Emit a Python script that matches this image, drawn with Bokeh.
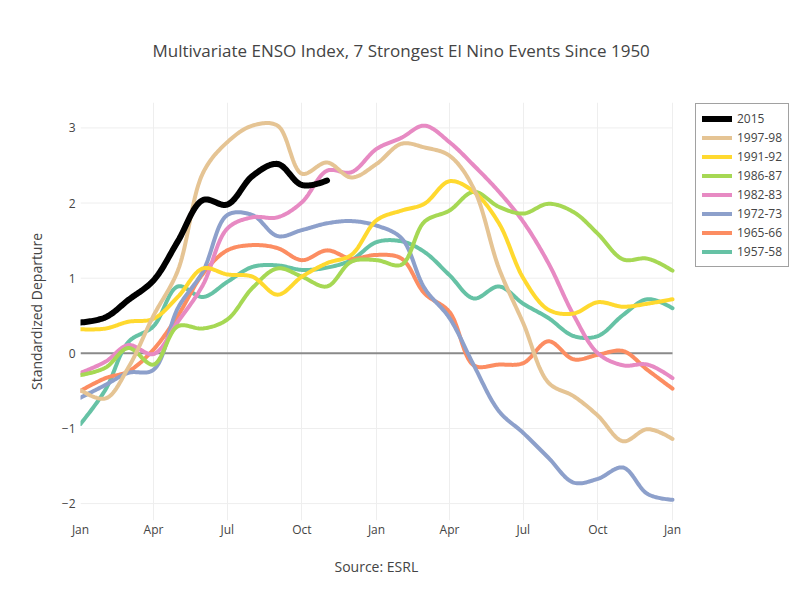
import numpy as np
import pandas as pd
from bokeh.plotting import figure
from bokeh.models import (Range1d, Legend, LegendItem, MonthsTicker,
                          DatetimeTickFormatter, FixedTicker, Title)
from bokeh.embed import file_html
from bokeh.resources import INLINE

# ---------------- data ----------------
months = pd.date_range("2001-01-01", "2003-01-01", freq="MS")  # Jan .. Jan (25 months)

mei_2015 = [0.41, 0.48, 0.71, 0.97, 1.49, 2.04, 1.98, 2.36, 2.52, 2.24, 2.30]
mei_1997_98 = [-0.49, -0.60, -0.19, 0.50, 1.10, 2.40, 2.81, 3.03, 3.03, 2.39, 2.54, 2.34,
               2.52, 2.79, 2.74, 2.63, 2.19, 1.13, 0.40, -0.39, -0.57, -0.83, -1.17, -1.01, -1.14]
mei_1991_92 = [0.32, 0.33, 0.42, 0.46, 0.75, 1.13, 1.05, 1.02, 0.78, 1.02, 1.20, 1.31,
               1.77, 1.90, 1.99, 2.29, 2.15, 1.73, 1.00, 0.58, 0.53, 0.68, 0.62, 0.66, 0.72]
mei_1986_87 = [-0.29, -0.19, 0.07, -0.15, 0.36, 0.33, 0.45, 0.87, 1.13, 1.02, 0.89, 1.22,
               1.24, 1.18, 1.75, 1.90, 2.15, 1.95, 1.86, 1.99, 1.88, 1.59, 1.25, 1.26, 1.10]
mei_1982_83 = [-0.26, -0.11, 0.11, -0.01, 0.42, 0.91, 1.66, 1.81, 1.81, 2.01, 2.43, 2.41,
               2.72, 2.87, 3.03, 2.81, 2.50, 2.15, 1.75, 1.20, 0.51, 0.00, -0.16, -0.15, -0.33]
mei_1972_73 = [-0.59, -0.42, -0.26, -0.22, 0.60, 1.09, 1.84, 1.84, 1.56, 1.64, 1.73, 1.76,
               1.70, 1.53, 0.87, 0.47, -0.16, -0.77, -1.06, -1.39, -1.72, -1.67, -1.52, -1.87, -1.95]
mei_1965_66 = [-0.50, -0.33, -0.24, 0.05, 0.50, 1.06, 1.37, 1.44, 1.40, 1.24, 1.37, 1.26,
               1.31, 1.26, 0.80, 0.55, -0.16, -0.15, -0.13, 0.16, -0.08, -0.02, 0.03, -0.22, -0.47]
mei_1957_58 = [-0.94, -0.48, 0.15, 0.36, 0.89, 0.75, 0.95, 1.15, 1.17, 1.11, 1.14, 1.24,
               1.48, 1.49, 1.35, 1.04, 0.73, 0.89, 0.66, 0.47, 0.23, 0.23, 0.51, 0.72, 0.60]

series_names = ["2015", "1997-98", "1991-92", "1986-87", "1982-83", "1972-73", "1965-66", "1957-58"]
series_values = [mei_2015, mei_1997_98, mei_1991_92, mei_1986_87, mei_1982_83,
                 mei_1972_73, mei_1965_66, mei_1957_58]
series_colors = ["#000000", "#e5c494", "#ffd92f", "#a6d854", "#e78ac3", "#8da0cb", "#fc8d62", "#66c2a5"]
series_widths = [6, 4, 4, 4, 4, 4, 4, 4]

y_ticks = [-2, -1, 0, 1, 2, 3]
y_tick_labels = {-2: "\u22122", -1: "\u22121", 0: "0", 1: "1", 2: "2", 3: "3"}

# ---------------- layout ----------------
W, H = 800, 600
ML, MT, MB = 80, 100, 80
FW = 592                 # width of the data area (px)
FW_ALL = W - ML          # frame runs to the right edge so the legend can sit in it
FH = H - MT - MB
YMIN, YMAX = -2.225, 3.338
x0 = months[0].value / 1e6
x1 = months[-1].value / 1e6
x1_frame = x0 + (x1 - x0) * FW_ALL / FW


def plotly_spline(xs, ys, smoothness=1.0, n=20):
    """Plotly-style 'spline' line shape, computed in screen space."""
    sx = [(x - x0) / (x1 - x0) * FW for x in xs]
    sy = [(y - YMIN) / (YMAX - YMIN) * FH for y in ys]
    pts = list(zip(sx, sy))
    if len(pts) < 3:
        out = pts
    else:
        def tangent(p0, p1, p2):
            d1x, d1y = p0[0] - p1[0], p0[1] - p1[1]
            d2x, d2y = p2[0] - p1[0], p2[1] - p1[1]
            d1a = (d1x * d1x + d1y * d1y) ** 0.25
            d2a = (d2x * d2x + d2y * d2y) ** 0.25
            numx = (d2a * d2a * d1x - d1a * d1a * d2x) * smoothness
            numy = (d2a * d2a * d1y - d1a * d1a * d2y) * smoothness
            den1 = 3 * d2a * (d1a + d2a)
            den2 = 3 * d1a * (d1a + d2a)
            return ((p1[0] + numx / den1, p1[1] + numy / den1),
                    (p1[0] - numx / den2, p1[1] - numy / den2))
        tans = [tangent(pts[i - 1], pts[i], pts[i + 1]) for i in range(1, len(pts) - 1)]
        t = np.linspace(0, 1, n + 1)[1:]
        out = [pts[0]]

        def quad(a, c, b):
            for u in t:
                out.append(((1 - u) ** 2 * a[0] + 2 * (1 - u) * u * c[0] + u * u * b[0],
                            (1 - u) ** 2 * a[1] + 2 * (1 - u) * u * c[1] + u * u * b[1]))

        def cub(a, c1, c2, b):
            for u in t:
                m = 1 - u
                out.append((m ** 3 * a[0] + 3 * m * m * u * c1[0] + 3 * m * u * u * c2[0] + u ** 3 * b[0],
                            m ** 3 * a[1] + 3 * m * m * u * c1[1] + 3 * m * u * u * c2[1] + u ** 3 * b[1]))
        quad(pts[0], tans[0][0], pts[1])
        for i in range(2, len(pts) - 1):
            cub(pts[i - 1], tans[i - 2][1], tans[i - 1][0], pts[i])
        quad(pts[-2], tans[-1][1], pts[-1])
    rx = [x0 + p[0] / FW * (x1 - x0) for p in out]
    ry = [YMIN + p[1] / FH * (YMAX - YMIN) for p in out]
    return rx, ry


p = figure(width=W, height=H, x_axis_type="datetime", output_backend="svg",
           toolbar_location=None, min_border_left=ML, min_border_right=0,
           min_border_top=MT, min_border_bottom=MB,
           x_range=Range1d(x0, x1_frame), y_range=Range1d(YMIN, YMAX))
p.outline_line_color = None
p.background_fill_color = "white"

title = Title(text="Multivariate ENSO Index, 7 Strongest El Nino Events Since 1950",
              align="left", offset=72, standoff=77, vertical_align="top", text_font="Open Sans",
              text_font_size="17px", text_font_style="normal", text_color="#444444")
p.add_layout(title, "above")

# grids: vertical from the axis ticker (limited by axis bounds), horizontal drawn over the data area only
p.xgrid.grid_line_color = "#eeeeee"
p.xgrid.grid_line_width = 1
p.ygrid.visible = False
grid_ticks = [t for t in y_ticks if t != 0]
p.segment(x0=[x0] * len(grid_ticks), x1=[x1] * len(grid_ticks), y0=grid_ticks, y1=grid_ticks,
          line_color="#eeeeee", line_width=1)
p.segment(x0=[x0], x1=[x1], y0=[0], y1=[0], line_color="#8a8a8a", line_width=2)

# axes
p.xaxis.bounds = (x0, x1)
p.xaxis.ticker = MonthsTicker(months=[0, 3, 6, 9])
p.xaxis.formatter = DatetimeTickFormatter(months="%b", days="%b", years="%b")
p.yaxis.ticker = FixedTicker(ticks=y_ticks)
p.yaxis.major_label_overrides = y_tick_labels
for ax in (p.xaxis[0], p.yaxis[0]):
    ax.axis_line_color = None
    ax.major_tick_line_color = None
    ax.minor_tick_line_color = None
    ax.major_tick_out = 0
    ax.major_tick_in = 0
    ax.major_label_text_font = "Open Sans"
    ax.major_label_text_font_size = "12px"
    ax.major_label_text_color = "#444444"
    ax.axis_label_text_font = "Open Sans"
    ax.axis_label_text_font_size = "14px"
    ax.axis_label_text_font_style = "normal"
    ax.axis_label_text_color = "#444444"
p.yaxis.axis_label = "Standardized Departure"
p.xaxis.major_label_standoff = 0
p.yaxis.major_label_standoff = 5
p.yaxis.axis_label_standoff = 13

# x-axis title, centred under the data area
xtitle = Title(text="Source: ESRL", align="left", offset=254, standoff=28, text_font="Open Sans",
               text_font_size="14px", text_font_style="normal", text_color="#444444")
p.add_layout(xtitle, "below")

renderers = {}
for name, vals, col, lw in reversed(list(zip(series_names, series_values, series_colors, series_widths))):
    xs = [m.value / 1e6 for m in months[:len(vals)]]
    sx, sy = plotly_spline(xs, vals)
    r = p.line(sx, sy, line_color=col, line_width=lw, line_join="round", line_cap="round")
    renderers[name] = r

legend = Legend(items=[LegendItem(label=n, renderers=[renderers[n]]) for n in series_names],
                location=(615, 253), border_line_color="#444444", border_line_width=1,
                padding=6, spacing=2, glyph_width=30, glyph_height=15, label_height=15,
                label_standoff=5, label_text_font="Open Sans", label_text_font_size="12px",
                label_text_color="#444444", margin=0, background_fill_alpha=1.0)
p.add_layout(legend)

open("out.html", "w").write(file_html(p, INLINE))
